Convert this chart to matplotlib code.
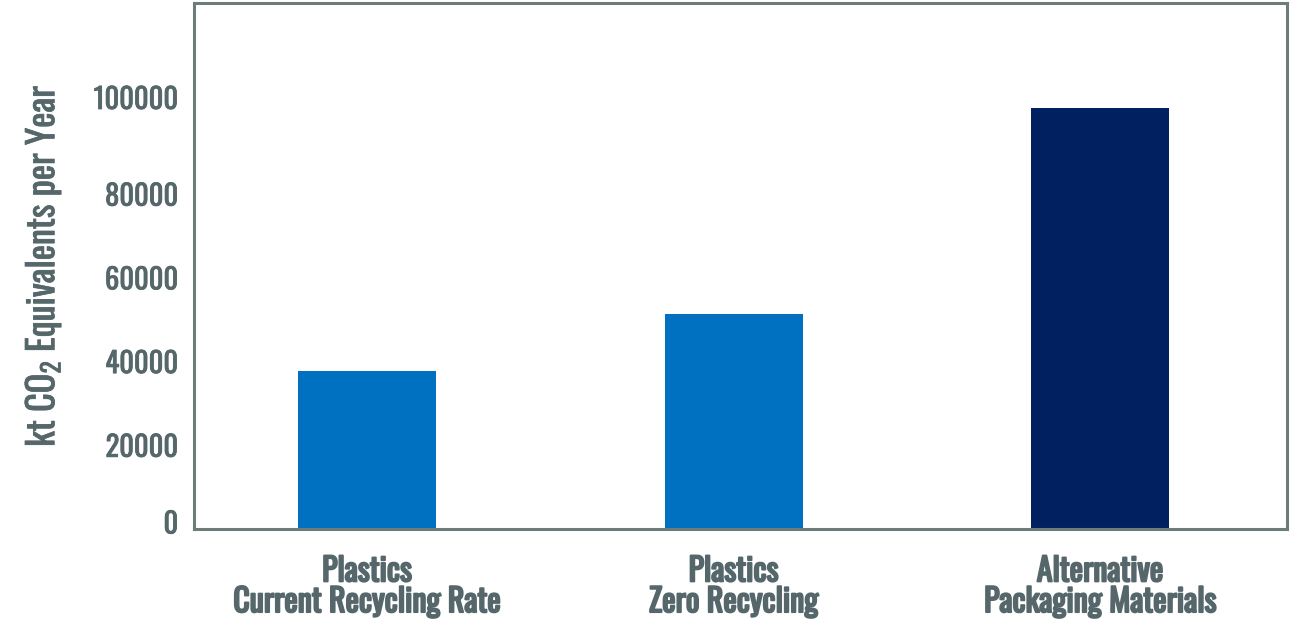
import matplotlib
matplotlib.use("Agg")
import matplotlib.pyplot as plt
import matplotlib.patheffects as pe
import matplotlib.transforms as mtransforms
from matplotlib import font_manager as fm

categories = ["Plastics\nCurrent Recycling Rate", "Plastics\nZero Recycling",
              "Alternative\nPackaging Materials"]
values = [37800, 51400, 100500]
bar_colors = ["#0070c0", "#0070c0", "#002060"]
yticks = [0, 20000, 40000, 60000, 80000, 100000]

available = {f.name for f in fm.fontManager.ttflist}
font = "DejaVu Sans"
for cand in ["Oswald", "Roboto Condensed", "Liberation Sans Narrow", "Open Sans Condensed", "Noto Sans"]:
    if cand in available:
        font = cand
        break

plt.rcParams['font.family'] = [font, 'DejaVu Sans']
plt.rcParams['mathtext.fontset'] = 'custom'
plt.rcParams['mathtext.rm'] = font
plt.rcParams['mathtext.it'] = font
plt.rcParams['mathtext.bf'] = font

text_color = "#55676a"
frame_color = "#6e7b7b"

fig = plt.figure(figsize=(12.9, 6.34), dpi=100)
ax = fig.add_axes([193.5/1290, 1-529/634, (1287-193.5)/1290, (529-2.5)/634])

x = list(range(len(categories)))
ax.bar(x, values, width=0.3765, color=bar_colors, zorder=2)
ax.set_xlim(-0.4734, 2.510)
ax.set_ylim(0, 125800)
ax.set_yticks(yticks)
ax.set_yticklabels([str(v) for v in yticks], fontsize=20.5, color=text_color)
ax.set_xticks(x)
ax.set_xticklabels(categories, fontsize=23, fontweight='bold', color=text_color,
                   linespacing=0.95)
ax.tick_params(axis='both', length=0)
ax.tick_params(axis='y', pad=11)
ax.tick_params(axis='x', pad=19)

for lab in ax.get_yticklabels():
    lab.set_path_effects([pe.withStroke(linewidth=0.6, foreground=text_color)])
for lab in ax.get_xticklabels():
    lab.set_path_effects([pe.withStroke(linewidth=1.4, foreground=text_color)])

# nudge the end labels as in the reference
labs = ax.get_yticklabels()
labs[0].set_transform(labs[0].get_transform() + mtransforms.ScaledTranslation(0, 7/100, fig.dpi_scale_trans))
labs[-1].set_transform(labs[-1].get_transform() + mtransforms.ScaledTranslation(0, 13/100, fig.dpi_scale_trans))

for s in ax.spines.values():
    s.set_color(frame_color)
    s.set_linewidth(2.2)

ylab = ax.set_ylabel(r"kt CO$_2$ Equivalents per Year", fontsize=26, color=text_color)
ylab.set_path_effects([pe.withStroke(linewidth=0.5, foreground=text_color)])
ax.yaxis.set_label_coords(-0.119, 0.5)

fig.savefig("out.png", dpi=100)
